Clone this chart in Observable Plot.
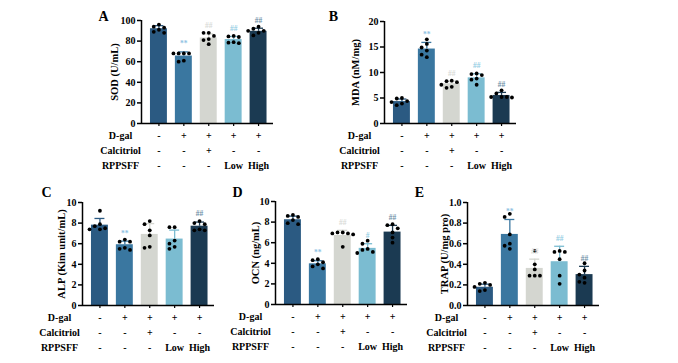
<!DOCTYPE html>
<html><head><meta charset="utf-8">
<script src="https://cdn.jsdelivr.net/npm/d3@7"></script>
<script src="https://cdn.jsdelivr.net/npm/@observablehq/plot@0.6"></script>
<style>
html,body{margin:0;padding:0;background:#fff;}
#chart{position:relative;width:678px;height:363px;overflow:hidden;background:#fff;}
#chart svg{position:absolute;}
</style></head><body><div id="chart"></div>
<script>
// ---- categories & table rows ----
const groups = ["Control", "D-gal", "Calcitriol", "RPPSFF Low", "RPPSFF High"];
const rowLabels = ["D-gal", "Calcitriol", "RPPSFF"];
const dgalRow = ["-", "+", "+", "+", "+"];
const calcitriolRow = ["-", "-", "+", "-", "-"];
const rppsffRow = ["-", "-", "-", "Low", "High"];
const barColors = ["#2b5a82", "#3a77a0", "#d4d6d0", "#7bbcd1", "#1b3a52"];
const sigColors = ["#000000", "#8dc2e3", "#d9dbd7", "#93cde3", "#6e8ea6"];

// ---- A: SOD ----
const sodMean = [92, 65.5, 83, 81.5, 89.5];
const sodSD = [3, 4, 4, 3, 3];
const sodDots = [[96, 94, 93, 91, 89, 88], [68, 68, 68, 68, 61, 60], [88, 88, 85, 82, 81, 77], [85, 84.5, 84, 79, 78.5, 78], [94, 92, 90, 90, 88, 85.5]];
const sodSig = [null, "**", "##", "##", "##"];
const sodTicks = [0, 20, 40, 60, 80, 100];
// ---- B: MDA ----
const mdaMean = [4.3, 14.6, 7.8, 8.95, 5.5];
const mdaSD = [0.5, 1.3, 0.5, 0.8, 0.6];
const mdaDots = [[5.0, 4.9, 4.4, 4.2, 3.9, 3.6], [16.5, 15.6, 14.9, 14.3, 13.5, 13.0], [8.4, 8.3, 8.1, 7.6, 7.2, 7.0], [9.8, 9.7, 9.5, 8.8, 8.6, 7.6], [6.5, 5.9, 5.2, 5.2, 5.2, 5.1]];
const mdaSig = [null, "**", "##", "##", "##"];
const mdaTicks = [0, 5, 10, 15, 20];
// ---- C: ALP ----
const alpMean = [7.8, 5.9, 6.9, 6.45, 7.7];
const alpSD = [0.65, 0.35, 1.05, 0.87, 0.4];
const alpDots = [[9.2, 7.9, 7.7, 7.5, 7.4, 7.4], [6.4, 6.2, 6.2, 5.6, 5.5, 5.4], [8.2, 7.9, 7.3, 6.8, 5.7, 5.6], [7.6, 7.6, 6.3, 6.0, 5.7, 5.5], [8.2, 8.0, 7.9, 7.4, 7.3, 7.3]];
const alpSig = [null, "**", null, null, "##"];
const alpTicks = [0, 2, 4, 6, 8, 10];
// ---- D: OCN ----
const ocnMean = [8.23, 3.95, 6.7, 5.45, 7.03];
const ocnSD = [0.35, 0.3, 0.5, 0.45, 0.65];
const ocnDots = [[8.7, 8.6, 8.5, 8.2, 7.9, 7.8], [4.4, 4.3, 4.1, 3.9, 3.7, 3.5], [7.0, 7.0, 6.9, 6.9, 6.8, 5.6], [6.2, 5.9, 5.4, 5.3, 5.1, 5.0], [7.8, 7.7, 7.4, 7.0, 6.5, 6.0]];
const ocnSig = [null, "**", "##", "#", "##"];
const ocnTicks = [0, 2, 4, 6, 8, 10];
// ---- E: TRAP ----
const trapMean = [0.177, 0.69, 0.36, 0.425, 0.30];
const trapSD = [0.03, 0.145, 0.09, 0.15, 0.08];
const trapDots = [[0.22, 0.21, 0.20, 0.18, 0.15, 0.14], [0.89, 0.86, 0.69, 0.60, 0.58, 0.55], [0.53, 0.40, 0.35, 0.29, 0.29, 0.29], [0.53, 0.52, 0.52, 0.45, 0.29, 0.21], [0.41, 0.34, 0.30, 0.27, 0.23, 0.22]];
const trapSig = [null, "**", "##", "##", "##"];
const trapTicks = [0, 0.2, 0.4, 0.6, 0.8, 1.0];

const panels = [
  {letter: "A", ylabel: "SOD (U/mL)", mean: sodMean, sd: sodSD, dots: sodDots, sig: sodSig, ticks: sodTicks, fmt: d => d, axisX: 141, top: 20, bottom: 123, rowDx: -21, ylabDx: -27, letDx: -38, letDy: -4},
  {letter: "B", ylabel: "MDA (nM/mg)", mean: mdaMean, sd: mdaSD, dots: mdaDots, sig: mdaSig, ticks: mdaTicks, fmt: d => d, axisX: 384, top: 21, bottom: 123, rowDx: -25, ylabDx: -29, letDx: -51, letDy: -5},
  {letter: "C", ylabel: "ALP (Kim unit/mL)", mean: alpMean, sd: alpSD, dots: alpDots, sig: alpSig, ticks: alpTicks, fmt: d => d, axisX: 82, top: 202, bottom: 305, rowDx: -23, ylabDx: -21, letDx: -36, letDy: -9.5},
  {letter: "D", ylabel: "OCN (ng/mL)", mean: ocnMean, sd: ocnSD, dots: ocnDots, sig: ocnSig, ticks: ocnTicks, fmt: d => d, axisX: 275, top: 201, bottom: 304, rowDx: -25, ylabDx: -20, letDx: -38, letDy: -8.5},
  {letter: "E", ylabel: "TRAP (U/mg pro)", mean: trapMean, sd: trapSD, dots: trapDots, sig: trapSig, ticks: trapTicks, fmt: d3.format(".1f"), axisX: 467, top: 202, bottom: 305, rowDx: -21, ylabDx: -23, letDx: -48, letDy: -9.5}
];

const xDomain = [-0.7, 4.6];
const font = "'Liberation Serif', 'Times New Roman', serif";

function swarm(vals, pxPerUnit, spacing) {
  const placed = [], out = [];
  vals.forEach((v, k) => {
    const y = v * pxPerUnit;
    for (const m of [0, -1, 1, -2, 2, -3, 3]) {
      const x = m * spacing;
      if (placed.every(p => Math.hypot(p.x - x, p.y - y) >= 4.4)) { placed.push({x, y}); out[k] = x; break; }
    }
  });
  return out;
}

const chart = document.getElementById("chart");
for (const cfg of panels) {
  const frameW = 132, frameH = cfg.bottom - cfg.top;
  const mL = 55, mT = 16, mR = 6, mB = 52;
  const max = cfg.ticks[cfg.ticks.length - 1];
  const step = frameW / (xDomain[1] - xDomain[0]);
  const bars = groups.map((g, i) => ({i, mean: cfg.mean[i], sd: cfg.sd[i], color: barColors[i], sig: cfg.sig[i], sigColor: sigColors[i]}));
  const dots = [];
  cfg.dots.forEach((arr, i) => {
    const offs = swarm(arr, frameH / max, 5.2);
    arr.forEach((v, k) => dots.push({x: i + offs[k] / step, y: v}));
  });
  const rows = [dgalRow, calcitriolRow, rppsffRow];
  const rowDy = [12.5, 27, 42];
  const tableMarks = [];
  rows.forEach((row, r) => {
    tableMarks.push(Plot.text(row.map((t, i) => ({i, t})), {x: "i", text: "t", frameAnchor: "bottom", dy: rowDy[r], lineAnchor: "middle", fontSize: 10, fontWeight: "bold"}));
    tableMarks.push(Plot.text([rowLabels[r]], {text: d => d, frameAnchor: "bottom-left", dx: cfg.rowDx, dy: rowDy[r], textAnchor: "middle", lineAnchor: "middle", fontSize: 10, fontWeight: "bold"}));
  });
  const svg = Plot.plot({
    width: mL + frameW + mR, height: mT + frameH + mB,
    marginLeft: mL, marginTop: mT, marginRight: mR, marginBottom: mB,
    x: {domain: xDomain, axis: null},
    y: {domain: [0, max], axis: null},
    color: {type: "identity"},
    style: {fontFamily: font, fontSize: "10px", fontWeight: "bold", background: "transparent", overflow: "visible", color: "#000"},
    marks: [
      Plot.rectY(bars, {x1: d => d.i - 0.34, x2: d => d.i + 0.34, y1: 0, y2: "mean", fill: "color"}),
      Plot.ruleX(bars, {x: "i", y1: "mean", y2: d => d.mean + d.sd, stroke: "color", strokeWidth: 1.3}),
      Plot.ruleY(bars, {x1: d => d.i - 0.2, x2: d => d.i + 0.2, y: d => d.mean + d.sd, stroke: "color", strokeWidth: 1.3}),
      Plot.dot(dots, {x: "x", y: "y", r: 1.9, fill: "black"}),
      Plot.text(bars.filter(d => d.sig), {x: "i", y: d => d.mean + d.sd, text: "sig", fill: "sigColor", dy: -8, fontSize: 7.5, fontWeight: "bold"}),
      Plot.ruleY([0], {strokeWidth: 1.5}),
      Plot.ruleX([xDomain[0]], {strokeWidth: 1.5}),
      Plot.axisY({ticks: cfg.ticks, tickFormat: cfg.fmt, tickSize: 4, tickPadding: 2, strokeWidth: 1.5, fontSize: 10, fontWeight: "bold", label: null}),
      Plot.axisX({ticks: [0, 1, 2, 3, 4], tickFormat: () => "", tickSize: 3, strokeWidth: 1.2, label: null}),
      ...tableMarks,
      Plot.text([cfg.ylabel], {text: d => d, x: () => xDomain[0], y: () => max / 2, rotate: -90, dx: cfg.ylabDx, fontSize: 10.5, fontWeight: "bold"}),
      Plot.text([cfg.letter], {text: d => d, frameAnchor: "top-left", dx: cfg.letDx, dy: cfg.letDy, fontSize: 14, fontWeight: "bold", textAnchor: "middle", lineAnchor: "middle"})
    ]
  });
  svg.style.left = (cfg.axisX - mL) + "px";
  svg.style.top = (cfg.top - mT) + "px";
  chart.appendChild(svg);
}
</script></body></html>
